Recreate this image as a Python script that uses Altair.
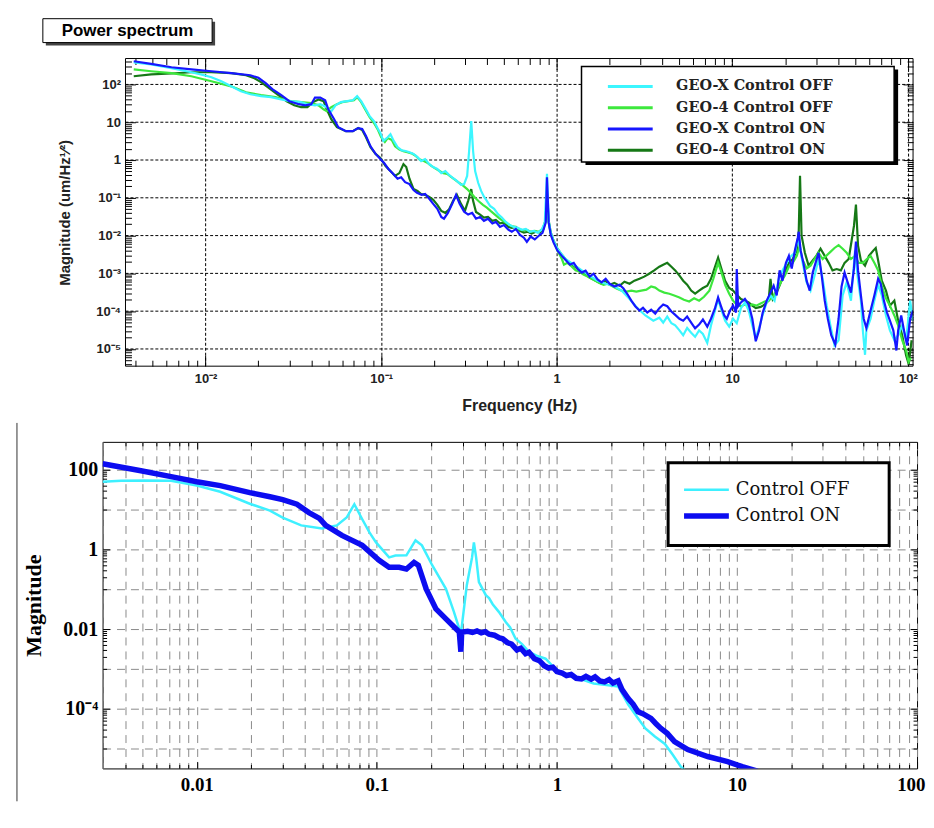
import altair as alt
import pandas as pd

# ---------------- upper panel : measured power spectra ----------------
UP_SERIES = ["GEO-X Control OFF", "GEO-4 Control OFF", "GEO-X Control ON", "GEO-4 Control ON"]
UP_COLORS = ["#3cf6ff", "#3de83d", "#1616ff", "#167816"]

geox_off = [(0.0039, 380), (0.0049, 340), (0.0064, 270), (0.0083, 210), (0.0094, 185), (0.0108, 155),
            (0.0123, 121), (0.014, 89), (0.0159, 66), (0.018, 55), (0.0207, 49), (0.0236, 46), (0.027, 40),
            (0.0306, 36), (0.035, 34), (0.038, 30), (0.042, 28), (0.045, 30), (0.049, 25), (0.0516, 18.5),
            (0.055, 28), (0.059, 34), (0.064, 36), (0.069, 38), (0.073, 49), (0.077, 36), (0.081, 24),
            (0.086, 14.5), (0.091, 10.7), (0.096, 6.6), (0.099, 5.2), (0.103, 3.2), (0.109, 4.0), (0.113, 4.8),
            (0.118, 3.2), (0.124, 2.2), (0.131, 1.8), (0.138, 1.73), (0.145, 1.6), (0.153, 1.45), (0.161, 1.2),
            (0.169, 0.94), (0.178, 1.06), (0.188, 0.78), (0.198, 0.65), (0.209, 0.58), (0.22, 0.45),
            (0.232, 0.51), (0.244, 0.40), (0.257, 0.33), (0.27, 0.28), (0.285, 0.22), (0.297, 0.23),
            (0.309, 0.38), (0.317, 1.73), (0.326, 10.7), (0.334, 1.73), (0.343, 0.51), (0.357, 0.25),
            (0.371, 0.152), (0.386, 0.105), (0.40, 0.083), (0.417, 0.061), (0.44, 0.051), (0.463, 0.037),
            (0.487, 0.030), (0.513, 0.023), (0.54, 0.019), (0.57, 0.017), (0.6, 0.016), (0.633, 0.0142),
            (0.667, 0.015), (0.703, 0.0126), (0.74, 0.0133), (0.78, 0.0119), (0.82, 0.0142), (0.855, 0.022),
            (0.88, 0.43), (0.9, 0.0246), (0.925, 0.0119), (0.96, 0.0073), (1.01, 0.0045), (1.12, 0.0024),
            (1.25, 0.0017), (1.39, 0.0012), (1.54, 8.7e-4), (1.71, 6.4e-4), (1.9, 5.3e-4), (2.1, 4.7e-4),
            (2.34, 3.5e-4), (2.6, 2.1e-4), (2.88, 1.2e-4), (3.2, 7.7e-5), (3.55, 5.6e-5), (3.84, 6.7e-5),
            (4.04, 5.0e-5), (4.26, 7.2e-5), (4.5, 4.8e-5), (4.73, 4.2e-5), (5.0, 3.1e-5), (5.25, 2.3e-5),
            (5.53, 3.6e-5), (5.83, 2.7e-5), (6.14, 2.1e-5), (6.47, 3.1e-5), (6.8, 2.5e-5), (7.2, 1.45e-5),
            (7.56, 4.2e-5), (7.97, 1.04e-4), (8.3, 2.1e-4), (8.6, 1.2e-4), (9.1, 5.6e-5), (9.6, 3.9e-5),
            (10.1, 6.3e-5), (10.6, 4.8e-5), (11.2, 1.2e-4), (11.8, 1.7e-4), (12.4, 1.04e-4), (13.0, 4.2e-5),
            (13.6, 1.9e-5), (14.2, 3.6e-5), (14.9, 8.0e-5), (15.7, 1.7e-4), (16.5, 2.6e-4), (17.4, 1.9e-4),
            (18.4, 7.2e-4), (19.3, 1.2e-3), (20.4, 1.9e-3), (21.5, 2.8e-3), (22.7, 3.5e-3), (23.6, 8.3e-3),
            (24.2, 5.4e-3), (25, 2.2e-3), (26.5, 5.8e-4), (27.9, 3.5e-4), (29.4, 8.7e-4), (31, 2.4e-3),
            (32.7, 7.2e-4), (34.5, 1.4e-4), (36.2, 4.2e-5), (38.2, 1.24e-5), (40.3, 1.7e-5), (42.5, 2.6e-4),
            (44.8, 5.8e-4), (47.4, 1.9e-4), (50, 4e-3), (52, 6.4e-4), (54, 1.9e-4), (55.4, 3.1e-5), (57, 7e-6),
            (58, 3.1e-5), (61.3, 6.3e-5), (64.4, 1.9e-4), (67.7, 5e-4), (71, 2.6e-4), (75, 7.7e-5), (79, 3.1e-5),
            (83.7, 1.7e-5), (88, 2.3e-5), (92.8, 4.2e-5), (97.7, 1.7e-5), (103, 1.9e-4), (107, 5.6e-5)]

geo4_off = [(0.0039, 250), (0.0049, 223), (0.0064, 200), (0.0083, 165), (0.0108, 121), (0.014, 89), (0.017, 62),
            (0.0207, 52), (0.025, 46), (0.0306, 36), (0.035, 34), (0.04, 32), (0.044, 28), (0.047, 22),
            (0.049, 19.6), (0.052, 25), (0.056, 30), (0.06, 34), (0.065, 36), (0.07, 38), (0.073, 46), (0.077, 34),
            (0.081, 22), (0.086, 13.6), (0.091, 9.5), (0.096, 6.2), (0.1, 4.0), (0.105, 3.0), (0.109, 3.8),
            (0.115, 3.4), (0.12, 2.3), (0.127, 1.9), (0.134, 1.7), (0.141, 1.6), (0.149, 1.5), (0.157, 1.3),
            (0.165, 1.05), (0.174, 0.95), (0.183, 0.85), (0.193, 0.7), (0.203, 0.6), (0.214, 0.52),
            (0.226, 0.45), (0.238, 0.43), (0.25, 0.36), (0.264, 0.3), (0.278, 0.25), (0.293, 0.21),
            (0.309, 0.17), (0.326, 0.13), (0.343, 0.1), (0.361, 0.08), (0.38, 0.065), (0.40, 0.055),
            (0.42, 0.045), (0.445, 0.036), (0.47, 0.029), (0.49, 0.025), (0.52, 0.021), (0.55, 0.018),
            (0.58, 0.017), (0.61, 0.0148), (0.64, 0.0138), (0.675, 0.0142), (0.71, 0.0126), (0.75, 0.0134),
            (0.79, 0.0126), (0.83, 0.015), (0.866, 0.025), (0.88, 0.083), (0.9, 0.022), (0.925, 0.011),
            (0.96, 0.007), (1.01, 0.004), (1.07, 0.0024), (1.1, 0.0017), (1.15, 0.0019), (1.22, 0.0015),
            (1.28, 0.0012), (1.35, 0.0011), (1.42, 9.3e-4), (1.5, 8.2e-4), (1.58, 7.2e-4), (1.66, 6.4e-4),
            (1.75, 5.6e-4), (1.85, 5e-4), (1.95, 5.3e-4), (2.05, 4.7e-4), (2.19, 4e-4), (2.34, 3.5e-4),
            (2.5, 3.3e-4), (2.66, 3.5e-4), (2.84, 3.3e-4), (3.03, 3.5e-4), (3.24, 3.7e-4), (3.45, 4.5e-4),
            (3.64, 4.2e-4), (3.84, 3.5e-4), (4.1, 3.1e-4), (4.38, 2.9e-4), (4.67, 2.6e-4), (5.0, 2.3e-4),
            (5.3, 2.0e-4), (5.68, 1.8e-4), (6.06, 2.2e-4), (6.47, 1.9e-4), (6.9, 2.4e-4), (7.4, 3.5e-4),
            (7.8, 7.2e-4), (8.3, 1.9e-3), (8.6, 1.2e-3), (9.1, 5e-4), (9.6, 2.9e-4), (10.1, 1.9e-4),
            (10.6, 1.5e-4), (11.2, 1.35e-4), (11.8, 1.5e-4), (12.4, 1.35e-4), (13, 1.5e-4), (13.7, 1.4e-4),
            (14.5, 1.6e-4), (15.3, 1.8e-4), (16.1, 1.9e-4), (17, 2.4e-4), (17.9, 3.5e-4), (18.9, 5.8e-4),
            (19.9, 8.7e-4), (21, 1.5e-3), (22.1, 1.9e-3), (23.3, 2.9e-3), (24.2, 5.4e-3), (25, 2.4e-3),
            (26.5, 1.35e-3), (27.9, 1.6e-3), (29.4, 2.4e-3), (31, 3.5e-3), (32.7, 2.4e-3), (34.5, 3e-3),
            (36.2, 3.7e-3), (38.2, 4.7e-3), (40.3, 5.6e-3), (42.5, 4.5e-3), (44.8, 3.5e-3), (47.4, 2.4e-3),
            (50, 2.9e-3), (52.3, 1.9e-3), (55.4, 1.9e-3), (58.4, 2.4e-3), (61.3, 2.9e-3), (64.4, 1.9e-3),
            (67.7, 1.2e-3), (71, 4.7e-4), (75, 2.2e-4), (79, 1.4e-4), (83.7, 7.7e-5), (88, 4.2e-5),
            (92.8, 1.7e-5), (97.7, 9.1e-6), (101, 4.6e-6), (104, 5.8e-6)]

geox_on = [(0.0039, 410), (0.0049, 350), (0.0064, 285), (0.0083, 250), (0.0108, 223), (0.014, 200), (0.018, 175),
           (0.020, 150), (0.022, 108), (0.024, 75), (0.027, 52), (0.030, 36), (0.034, 30), (0.037, 28),
           (0.040, 30), (0.042, 45), (0.045, 45), (0.048, 38), (0.050, 22), (0.054, 12), (0.057, 7.4),
           (0.063, 5.8), (0.069, 5.8), (0.074, 7.0), (0.078, 6.6), (0.082, 4.3), (0.087, 2.3), (0.093, 1.45),
           (0.099, 1.06), (0.104, 0.83), (0.11, 0.58), (0.117, 0.43), (0.124, 0.32), (0.13, 0.35), (0.137, 0.26),
           (0.145, 0.23), (0.153, 0.16), (0.16, 0.135), (0.17, 0.12), (0.178, 0.126), (0.188, 0.094),
           (0.198, 0.069), (0.209, 0.051), (0.22, 0.031), (0.228, 0.028), (0.24, 0.040), (0.254, 0.069),
           (0.267, 0.12), (0.28, 0.069), (0.297, 0.043), (0.313, 0.036), (0.33, 0.040), (0.347, 0.028),
           (0.366, 0.031), (0.385, 0.0246), (0.406, 0.028), (0.43, 0.021), (0.45, 0.023), (0.475, 0.017),
           (0.50, 0.019), (0.53, 0.0144), (0.555, 0.0126), (0.585, 0.015), (0.617, 0.0105), (0.65, 0.0088),
           (0.676, 0.0068), (0.71, 0.0094), (0.75, 0.0079), (0.79, 0.0099), (0.83, 0.0119), (0.866, 0.022),
           (0.88, 0.35), (0.9, 0.022), (0.925, 0.0105), (0.96, 0.0065), (1.01, 0.0040), (1.07, 0.0029),
           (1.12, 0.0023), (1.19, 0.0017), (1.25, 0.0019), (1.32, 0.0013), (1.39, 0.00105), (1.46, 0.00118),
           (1.54, 8.2e-4), (1.62, 9.8e-4), (1.71, 6.9e-4), (1.8, 5.8e-4), (1.9, 7.2e-4), (2.0, 5.3e-4),
           (2.13, 4.5e-4), (2.28, 5e-4), (2.4, 4e-4), (2.53, 2.8e-4), (2.66, 1.9e-4), (2.8, 1.35e-4),
           (2.96, 1.04e-4), (3.1, 1.23e-4), (3.28, 9.2e-5), (3.45, 1.1e-4), (3.64, 8.6e-5), (3.84, 1.2e-4),
           (4.04, 1.5e-4), (4.26, 1.35e-4), (4.5, 9.8e-5), (4.73, 8e-5), (5.0, 6.3e-5), (5.25, 5.6e-5),
           (5.53, 7.2e-5), (5.83, 5.0e-5), (6.14, 3.5e-5), (6.47, 4.4e-5), (6.8, 6.0e-5), (7.2, 3.9e-5),
           (7.56, 6.3e-5), (7.97, 1.2e-4), (8.3, 2.3e-4), (8.6, 1.4e-4), (9.0, 7.7e-5), (9.3, 6.3e-5),
           (9.7, 1.04e-4), (10.1, 1.4e-4), (10.5, 9.2e-5), (10.6, 1.3e-3), (10.8, 1.35e-4), (11.2, 1.7e-4),
           (11.8, 2.1e-4), (12.4, 1.5e-4), (13.0, 6.3e-5), (13.6, 1.6e-5), (14.2, 3.1e-5), (14.9, 9.2e-5),
           (15.7, 1.9e-4), (16.5, 3.1e-4), (17.2, 4.7e-4), (17.9, 2.6e-4), (18.6, 1.2e-3), (19.3, 6.4e-4),
           (20.2, 1.9e-3), (21.0, 2.9e-3), (21.8, 1.35e-3), (22.7, 4e-3), (23.6, 8.8e-3), (23.9, 0.0126),
           (24.5, 4e-3), (25.4, 1.9e-3), (26.5, 6.4e-4), (27.6, 3.5e-4), (28.7, 1.05e-3), (29.8, 1.9e-3),
           (31, 3.5e-3), (32.3, 8.7e-4), (33.6, 1.9e-4), (35, 6.3e-5), (36.6, 2.3e-5), (38.6, 1.3e-5),
           (40.3, 6.3e-5), (41.9, 4.5e-4), (43.6, 1.05e-3), (45.4, 5.8e-4), (47.4, 3.1e-4), (49.3, 1.35e-3),
           (50.6, 6.9e-3), (52, 1.2e-3), (54, 2.6e-4), (56, 6.3e-5), (58, 3.6e-5), (61.3, 1.04e-4),
           (64.4, 2.6e-4), (67.7, 7.2e-4), (70, 5.3e-4), (73, 1.9e-4), (76, 9.2e-5), (79, 5.6e-5),
           (82.6, 3.1e-5), (86, 9.1e-6), (88, 3.1e-5), (91.6, 7.7e-5), (95, 3.1e-5), (99, 1.24e-5),
           (103, 6.3e-5), (107, 1.04e-4)]

geo4_on = [(0.0039, 165), (0.0049, 185), (0.0064, 195), (0.0083, 210), (0.0108, 210), (0.014, 200), (0.017, 175),
           (0.019, 145), (0.0207, 115), (0.023, 80), (0.026, 52), (0.029, 36), (0.032, 28), (0.035, 25),
           (0.038, 25), (0.041, 34), (0.044, 40), (0.047, 36), (0.049, 22), (0.052, 12), (0.056, 7.4),
           (0.063, 5.8), (0.069, 5.8), (0.074, 7.0), (0.078, 6.2), (0.082, 4.0), (0.087, 2.2), (0.093, 1.45),
           (0.099, 1.13), (0.106, 0.69), (0.113, 0.51), (0.12, 0.38), (0.127, 0.45), (0.134, 0.78),
           (0.139, 0.65), (0.145, 0.32), (0.153, 0.17), (0.161, 0.152), (0.169, 0.126), (0.178, 0.12),
           (0.188, 0.105), (0.198, 0.088), (0.209, 0.065), (0.22, 0.045), (0.232, 0.040), (0.244, 0.05),
           (0.257, 0.083), (0.27, 0.12), (0.285, 0.069), (0.3, 0.045), (0.313, 0.083), (0.326, 0.17),
           (0.334, 0.083), (0.347, 0.042), (0.366, 0.036), (0.385, 0.03), (0.406, 0.031), (0.43, 0.0246),
           (0.45, 0.026), (0.475, 0.021), (0.50, 0.022), (0.53, 0.017), (0.555, 0.016), (0.585, 0.017),
           (0.617, 0.0134), (0.65, 0.012), (0.685, 0.0126), (0.72, 0.0113), (0.76, 0.0126), (0.8, 0.012),
           (0.84, 0.015), (0.866, 0.028), (0.88, 0.15), (0.9, 0.0246), (0.925, 0.012), (0.96, 0.0073),
           (1.01, 0.0045), (1.07, 0.0031), (1.12, 0.0024), (1.19, 0.0019), (1.25, 0.0016), (1.32, 0.0013),
           (1.39, 0.0011), (1.46, 9.3e-4), (1.54, 7.7e-4), (1.62, 6.9e-4), (1.71, 6.0e-4), (1.8, 5.3e-4),
           (1.9, 6.4e-4), (2.0, 5.0e-4), (2.13, 5.6e-4), (2.28, 4.7e-4), (2.43, 6.0e-4), (2.6, 5.3e-4),
           (2.77, 6.4e-4), (2.96, 7.2e-4), (3.15, 8.2e-4), (3.36, 9.8e-4), (3.59, 1.2e-3), (3.84, 1.5e-3),
           (4.04, 1.7e-3), (4.26, 1.9e-3), (4.5, 1.5e-3), (4.73, 1.2e-3), (5.0, 8.7e-4), (5.25, 6.4e-4),
           (5.53, 5.0e-4), (5.83, 3.5e-4), (6.14, 2.9e-4), (6.47, 3.5e-4), (6.8, 4.1e-4), (7.2, 4.7e-4),
           (7.56, 7.2e-4), (7.97, 1.5e-3), (8.3, 2.6e-3), (8.6, 1.5e-3), (9.1, 6.4e-4), (9.6, 4.1e-4),
           (10.1, 3.5e-4), (10.6, 2.7e-4), (11.2, 2.1e-4), (11.8, 1.9e-4), (12.4, 1.7e-4), (13.0, 1.4e-4),
           (13.6, 1.2e-4), (14.5, 1.3e-4), (15.3, 1.5e-4), (16.1, 1.9e-4), (16.5, 7.2e-4), (17, 2.1e-4),
           (17.9, 3.1e-4), (18.9, 5.8e-4), (19.9, 1.05e-3), (21.0, 1.9e-3), (22.1, 2.4e-3), (23.3, 4e-3),
           (23.9, 0.0134), (24.3, 0.38), (24.8, 0.0099), (25.9, 3.5e-3), (27.2, 1.6e-3), (28.7, 2.2e-3),
           (30.1, 2.9e-3), (31.8, 4.5e-3), (33.6, 2.9e-3), (35.4, 1.9e-3), (37.2, 1.2e-3), (39.3, 1.3e-3),
           (41.5, 1.2e-3), (43.6, 1.9e-3), (46.0, 2.4e-3), (47.8, 7.3e-3), (49.3, 0.018), (50.6, 0.066),
           (52, 5.4e-3), (54, 2.2e-3), (57, 1.6e-3), (60, 2.9e-3), (63.5, 4e-3), (65.6, 4.7e-3), (67.7, 2.2e-3),
           (71, 6.4e-4), (75, 3.5e-4), (79, 1.4e-4), (83.7, 1.9e-4), (88, 5.6e-5), (92.8, 2.3e-5),
           (97.7, 6.7e-6), (101, 4e-6), (105, 1.7e-5)]

UP_X_TICKS = [0.01, 0.1, 1, 10, 100]
UP_Y_TICKS = [100, 10, 1, 0.1, 0.01, 0.001, 0.0001, 0.00001]

# ---------------- lower panel : model ----------------
LO_SERIES = ["Control OFF", "Control ON"]
LO_COLORS = ["#3ef0ff", "#0c0cf0"]

ctrl_off = [(0.003, 50), (0.0038, 53), (0.0051, 54), (0.0072, 53), (0.01, 40), (0.0135, 28), (0.0197, 14),
            (0.0255, 9.4), (0.03, 6.3), (0.038, 4.0), (0.0496, 3.35), (0.06, 4.0), (0.068, 6.3), (0.075, 13.6),
            (0.083, 5.7), (0.091, 2.66), (0.099, 1.5), (0.117, 0.63), (0.127, 0.7), (0.146, 0.71), (0.164, 1.68),
            (0.178, 1.26), (0.203, 0.4), (0.242, 0.102), (0.268, 0.027), (0.293, 0.0076), (0.316, 0.126),
            (0.338, 0.63), (0.346, 1.5), (0.356, 0.63), (0.369, 0.15), (0.403, 0.071), (0.42, 0.06),
            (0.44, 0.042), (0.476, 0.027), (0.52, 0.015), (0.55, 0.011), (0.59, 0.0057), (0.64, 0.0042),
            (0.697, 0.0027), (0.78, 0.0021), (0.865, 0.0018), (0.98, 0.001), (1.1, 7.5e-4), (1.37, 5.5e-4),
            (1.6, 4.3e-4), (1.84, 4.0e-4), (2.19, 3.6e-4), (2.49, 1.26e-4), (2.8, 6e-5), (3.1, 3.2e-5),
            (3.5, 2.0e-5), (3.98, 1.3e-5), (4.4, 7e-6), (4.88, 3.5e-6), (5.3, 2.5e-6)]

ctrl_on = [(0.003, 141), (0.0049, 94), (0.0072, 67), (0.01, 50), (0.0135, 40), (0.0197, 26.6), (0.0255, 21),
           (0.03, 17.8), (0.036, 13.6), (0.042, 8.4), (0.048, 6.0), (0.052, 4.0), (0.064, 2.24), (0.083, 1.26),
           (0.103, 0.53), (0.117, 0.355), (0.133, 0.355), (0.146, 0.32), (0.161, 0.47), (0.17, 0.4),
           (0.188, 0.102), (0.213, 0.032), (0.242, 0.018), (0.275, 0.0102), (0.287, 0.0084), (0.293, 0.0027),
           (0.296, 0.0084), (0.30, 0.0084), (0.32, 0.0088), (0.34, 0.0082), (0.36, 0.0090), (0.38, 0.0080),
           (0.40, 0.0086), (0.42, 0.0074), (0.45, 0.0070), (0.48, 0.0060), (0.50, 0.0057), (0.53, 0.0046),
           (0.56, 0.0042), (0.60, 0.0030), (0.63, 0.0033), (0.67, 0.0024), (0.70, 0.0026), (0.75, 0.0018),
           (0.80, 0.0016), (0.85, 0.0012), (0.90, 0.00105), (0.95, 0.0011), (1.0, 0.00085), (1.07, 0.00078),
           (1.13, 0.00068), (1.2, 0.00072), (1.28, 0.00058), (1.37, 0.00056), (1.45, 0.00065), (1.55, 0.00055),
           (1.63, 0.00063), (1.73, 0.0005), (1.84, 0.00047), (1.95, 0.00054), (2.05, 0.00044), (2.19, 0.0005),
           (2.3, 0.0003), (2.49, 0.00018), (2.65, 0.00013), (2.82, 0.000084), (3.0, 0.000075), (3.33, 0.000057),
           (3.55, 0.000042), (3.78, 0.000032), (4.1, 0.000024), (4.5, 0.000015), (5.33, 9.4e-6), (6.88, 6.3e-6),
           (8.87, 4.7e-6), (10.7, 3.5e-6), (13, 2.7e-6)]

LO_X_TICKS = [0.01, 0.1, 1, 10, 100]
LO_Y_LABELS = [100, 1, 0.01, 0.0001]


def frame(pairs, name, field):
    return pd.DataFrame({"f": [p[0] for p in pairs], "v": [p[1] for p in pairs], field: name})


def minor_ticks(lo, hi, exps):
    out = []
    for e in exps:
        for m in range(2, 10):
            t = m * 10.0 ** e
            if lo < t < hi:
                out.append(t)
    return out


EMPTY = pd.DataFrame({"f": pd.Series([], dtype=float), "v": pd.Series([], dtype=float)})
ONE = pd.DataFrame({"k": [0]})

SANS = "Liberation Sans, Arial, sans-serif"
SERIF = "Liberation Serif, Times New Roman, serif"
LEG_SERIF = "DejaVu Serif, serif"


def axis_layer(xs, ys, xaxis, yaxis):
    return alt.Chart(EMPTY).mark_point(opacity=0).encode(
        x=alt.X("f:Q", scale=xs, axis=xaxis),
        y=alt.Y("v:Q", scale=ys, axis=yaxis),
    )


def tick_axis(orient, values, length, shift=0, color="black"):
    return alt.Axis(orient=orient, values=values, tickSize=length, offset=-(length + shift), labels=False,
                    domain=False, grid=False, title=None, ticks=True, tickColor=color, tickWidth=1)


def deco_rect(x1, x2, y1, y2, **style):
    return alt.Chart(ONE).mark_rect(**style).encode(
        x=alt.value(x1), x2=alt.value(x2), y=alt.value(y1), y2=alt.value(y2))


def deco_rule(x, y1, y2, color, width=1):
    return alt.Chart(ONE).mark_rule(color=color, strokeWidth=width).encode(
        x=alt.value(x), y=alt.value(y1), y2=alt.value(y2))


# ---------------- build upper ----------------
# the upper frame starts IN0 px to the right of the lower panel's frame
IN0 = 23
UW, UH = 814, 309
UX = alt.Scale(type="log", domain=[0.0035, 107], range=[IN0, UW], nice=False)
UY = alt.Scale(type="log", domain=[3.5e-6, 485], nice=False)
UCOL = alt.Scale(domain=UP_SERIES, range=UP_COLORS)

ux_minor = minor_ticks(0.0035, 107, range(-3, 3))
uy_minor = minor_ticks(3.5e-6, 485, range(-6, 3))

UXL = ("datum.value > 50 ? '10\u00b2' : datum.value > 5 ? '10' : datum.value > 0.5 ? '1' : "
       "datum.value > 0.05 ? '10\u207b\u00b9' : '10\u207b\u00b2'")
UYL = ("datum.value > 50 ? '10\u00b2' : datum.value > 5 ? '10' : datum.value > 0.5 ? '1' : "
       "datum.value > 0.05 ? '10\u207b\u00b9' : datum.value > 0.005 ? '10\u207b\u00b2' : "
       "datum.value > 0.0005 ? '10\u207b\u00b3' : datum.value > 0.00005 ? '10\u207b\u2074' : '10\u207b\u2075'")

up_labels = axis_layer(
    UX, UY,
    alt.Axis(orient="bottom", values=UP_X_TICKS, labelExpr=UXL, grid=True, gridColor="black", gridDash=[3, 2],
             gridWidth=1, gridOpacity=1, ticks=False, domain=False, labelFont=SANS, labelFontSize=13,
             labelFontWeight="bold", labelColor="#222", labelPadding=6, title="Frequency (Hz)", titleFont=SANS,
             titleFontSize=16, titleFontWeight="bold", titleColor="#222", titlePadding=13,
             titleX=(IN0 + UW) / 2),
    alt.Axis(orient="left", values=UP_Y_TICKS, labelExpr=UYL, grid=False, ticks=False, domain=False,
             offset=-IN0, labelFont=SANS, labelFontSize=13,
             labelFontWeight="bold", labelColor="#222", labelPadding=5,
             title="Magnitude (um/Hz\u00b9\u2044\u00b2)", titleFont=SANS, titleFontSize=15,
             titleFontWeight="bold", titleColor="#222", titlePadding=23),
)
up_hgrid = alt.Chart(pd.DataFrame({"v": UP_Y_TICKS})).mark_rule(
    color="black", strokeDash=[3, 2], strokeWidth=1).encode(
    y=alt.Y("v:Q", scale=UY, axis=None), x=alt.value(IN0), x2=alt.value(UW))

up_ticks = [
    axis_layer(UX, UY, tick_axis("bottom", UP_X_TICKS, 11), tick_axis("left", UP_Y_TICKS, 10, IN0)),
    axis_layer(UX, UY, tick_axis("bottom", ux_minor, 6), tick_axis("left", uy_minor, 6, IN0)),
    axis_layer(UX, UY, tick_axis("top", UP_X_TICKS, 11), tick_axis("right", UP_Y_TICKS, 10)),
    axis_layer(UX, UY, tick_axis("top", ux_minor, 6), tick_axis("right", uy_minor, 6)),
]

UP_LEGEND = alt.Legend(title=None, orient="none", legendX=498 + IN0, legendY=19, symbolType="M-3,0H3",
                       symbolSize=225, symbolStrokeWidth=3, symbolOffset=0, labelOffset=37,
                       labelFont=LEG_SERIF, labelFontWeight="bold", labelFontSize=14.5, labelColor="#222",
                       labelLimit=500, padding=0, rowPadding=5.4)


def up_line(pairs, name):
    return alt.Chart(frame(pairs, name, "up_series")).mark_line(strokeWidth=2.2, clip=True).encode(
        x=alt.X("f:Q", scale=UX, axis=None),
        y=alt.Y("v:Q", scale=UY, axis=None),
        color=alt.Color("up_series:N", scale=UCOL, legend=UP_LEGEND),
    )


up_lines = [up_line(geo4_on, UP_SERIES[3]), up_line(geo4_off, UP_SERIES[1]),
            up_line(geox_off, UP_SERIES[0]), up_line(geox_on, UP_SERIES[2])]

up_frame = deco_rect(IN0, UW, 0, UH, fillOpacity=0, stroke="black", strokeWidth=1)
up_leg_shadow = deco_rect(462 + IN0, 776 + IN0, 11, 107, color="black")
up_leg_box = deco_rect(458 + IN0, 772 + IN0, 8, 104, fill="white", stroke="black", strokeWidth=1.5)

box_shadow = deco_rect(-80 + IN0, 90 + IN0, -37, -13, color="#444")
box = deco_rect(-83 + IN0, 87 + IN0, -40, -16, fill="white", stroke="black", strokeWidth=1)
box_text = alt.Chart(ONE).mark_text(text="Power spectrum", font=SANS, fontSize=17, fontWeight="bold",
                                    color="black", baseline="middle").encode(
    x=alt.value(2 + IN0), y=alt.value(-28))

upper = alt.layer(up_hgrid, up_labels, *up_ticks, *up_lines, up_frame, up_leg_shadow, up_leg_box,
                  box_shadow, box, box_text).resolve_axis(x="independent", y="independent").properties(
    width=UW, height=UH, view=alt.ViewBackground(stroke="transparent", strokeWidth=0))

# ---------------- build lower ----------------
LX = alt.Scale(type="log", domain=[0.003, 100], nice=False)
LY = alt.Scale(type="log", domain=[10 ** -5.5, 10 ** 2.7], nice=False)
LCOL = alt.Scale(domain=LO_SERIES, range=LO_COLORS)
LSW = alt.Scale(domain=LO_SERIES, range=[2.5, 5.5])

lx_minor = minor_ticks(0.003, 100, range(-3, 2))
lx_all = [0.003] + sorted(lx_minor + LO_X_TICKS)
ly_decades = [10.0 ** e for e in range(-5, 3)]
ly_minor = minor_ticks(10 ** -5.5, 10 ** 2.7, [-5, -3, -1, 1]) + [10, 0.1, 0.001, 0.00001]

LYL = ("datum.value > 50 ? '100' : datum.value > 0.5 ? '1' : datum.value > 0.005 ? '0.01' : "
       "'10\u207b\u2074'")

lo_grid = axis_layer(
    LX, LY,
    alt.Axis(orient="bottom", values=lx_all, grid=True, gridColor="#8a8a8a", gridDash=[8, 6], gridWidth=1,
             gridOpacity=1, labels=False, ticks=False, domain=False, title=None),
    alt.Axis(orient="left", values=ly_decades, grid=True, gridColor="#8a8a8a", gridDash=[8, 6], gridWidth=1,
             gridOpacity=1, labels=False, ticks=False, domain=False, title=None),
)
lo_labels = axis_layer(
    LX, LY,
    alt.Axis(orient="bottom", values=LO_X_TICKS, format="~g", grid=False, ticks=False, domain=False,
             labelFont=SERIF, labelFontSize=19, labelFontWeight="bold", labelColor="black", labelPadding=7,
             labelFlush=1, labelFlushOffset=8, title=None),
    alt.Axis(orient="left", values=LO_Y_LABELS, labelExpr=LYL, grid=False, ticks=False, domain=False,
             labelFont=SERIF, labelFontSize=20, labelFontWeight="bold", labelColor="black", labelPadding=5,
             title="Magnitude", titleFont=SERIF, titleFontSize=22, titleFontWeight="bold", titleColor="black",
             titlePadding=17),
)
lo_ticks = [
    axis_layer(LX, LY, tick_axis("bottom", LO_X_TICKS, 7), tick_axis("left", LO_Y_LABELS, 7)),
    axis_layer(LX, LY, tick_axis("bottom", lx_minor, 4), tick_axis("left", ly_minor, 4)),
    axis_layer(LX, LY, tick_axis("top", LO_X_TICKS, 7), tick_axis("right", LO_Y_LABELS, 7)),
    axis_layer(LX, LY, tick_axis("top", lx_minor, 4), tick_axis("right", ly_minor, 4)),
]

LO_LEGEND = alt.Legend(title=None, orient="none", legendX=596, legendY=39, symbolType="M-3,0H3",
                       symbolSize=225, symbolOffset=0, labelOffset=19, labelFont=LEG_SERIF,
                       labelFontSize=18, labelColor="#111", labelLimit=500, padding=0, rowPadding=6)


def lo_line(pairs, name):
    return alt.Chart(frame(pairs, name, "lo_series")).mark_line(clip=True).encode(
        x=alt.X("f:Q", scale=LX, axis=None),
        y=alt.Y("v:Q", scale=LY, axis=None),
        color=alt.Color("lo_series:N", scale=LCOL, legend=LO_LEGEND),
        strokeWidth=alt.StrokeWidth("lo_series:N", scale=LSW, legend=LO_LEGEND),
    )


lo_lines = [lo_line(ctrl_off, LO_SERIES[0]), lo_line(ctrl_on, LO_SERIES[1])]

lo_leg_box = deco_rect(568, 790, 21, 104, fill="white", stroke="black", strokeWidth=3)
lo_edge = deco_rule(-86, -19, 361, "#333")

lower = alt.layer(lo_grid, lo_labels, *lo_ticks, *lo_lines, lo_leg_box, lo_edge).resolve_axis(
    x="independent", y="independent").properties(
    width=818, height=328, view=alt.ViewBackground(stroke="black", strokeWidth=1))

chart = alt.vconcat(upper, lower, spacing=8).resolve_scale(
    color="independent", strokeWidth="independent"
).properties(
    padding={"left": 8, "top": 8, "right": 0, "bottom": 4}, background="white"
)

chart.save("out.html", embed_options={"renderer": "svg", "actions": False})
